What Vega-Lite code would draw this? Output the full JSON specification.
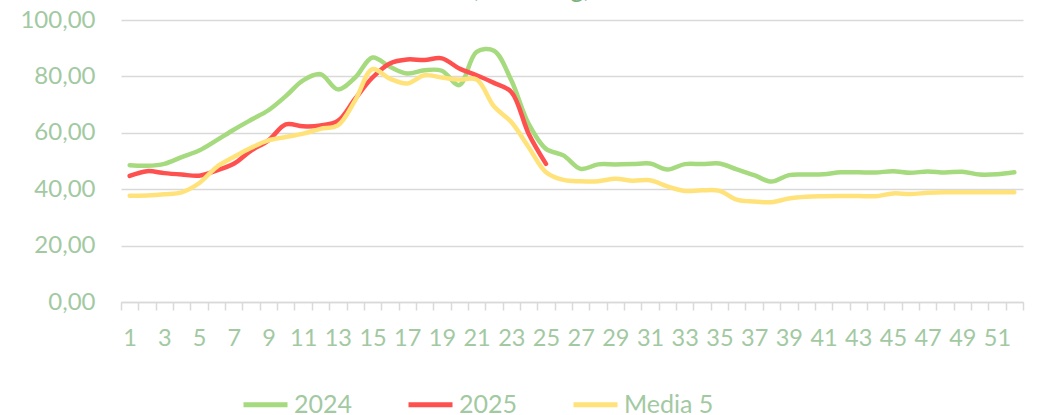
{
  "$schema": "https://vega.github.io/schema/vega-lite/v6.json",
  "width": 902,
  "height": 282,
  "autosize": {"type": "none"},
  "padding": {"left": 121, "top": 20, "right": 20, "bottom": 113},
  "background": "white",
  "title": {
    "text": "(€/100 kg)",
    "font": "Lato",
    "fontSize": 26,
    "fontWeight": "normal",
    "color": "#7DB27D",
    "anchor": "middle",
    "baseline": "alphabetic",
    "offset": 0,
    "dx": -41,
    "dy": 15
  },
  "data": {
    "values": [
      {"week": 1, "serie": "2024", "value": 48.5},
      {"week": 2, "serie": "2024", "value": 48.3},
      {"week": 3, "serie": "2024", "value": 49.0},
      {"week": 4, "serie": "2024", "value": 51.4},
      {"week": 5, "serie": "2024", "value": 53.7},
      {"week": 6, "serie": "2024", "value": 57.3},
      {"week": 7, "serie": "2024", "value": 61.1},
      {"week": 8, "serie": "2024", "value": 64.6},
      {"week": 9, "serie": "2024", "value": 68.0},
      {"week": 10, "serie": "2024", "value": 73.0},
      {"week": 11, "serie": "2024", "value": 78.6},
      {"week": 12, "serie": "2024", "value": 80.8},
      {"week": 13, "serie": "2024", "value": 75.4},
      {"week": 14, "serie": "2024", "value": 79.6},
      {"week": 15, "serie": "2024", "value": 86.7},
      {"week": 16, "serie": "2024", "value": 83.4},
      {"week": 17, "serie": "2024", "value": 81.0},
      {"week": 18, "serie": "2024", "value": 82.2},
      {"week": 19, "serie": "2024", "value": 82.0},
      {"week": 20, "serie": "2024", "value": 76.9},
      {"week": 21, "serie": "2024", "value": 88.7},
      {"week": 22, "serie": "2024", "value": 89.1},
      {"week": 23, "serie": "2024", "value": 78.6},
      {"week": 24, "serie": "2024", "value": 63.2},
      {"week": 25, "serie": "2024", "value": 54.3},
      {"week": 26, "serie": "2024", "value": 52.0},
      {"week": 27, "serie": "2024", "value": 47.2},
      {"week": 28, "serie": "2024", "value": 48.8},
      {"week": 29, "serie": "2024", "value": 48.8},
      {"week": 30, "serie": "2024", "value": 48.9},
      {"week": 31, "serie": "2024", "value": 49.1},
      {"week": 32, "serie": "2024", "value": 47.0},
      {"week": 33, "serie": "2024", "value": 48.9},
      {"week": 34, "serie": "2024", "value": 48.9},
      {"week": 35, "serie": "2024", "value": 49.1},
      {"week": 36, "serie": "2024", "value": 47.0},
      {"week": 37, "serie": "2024", "value": 45.0},
      {"week": 38, "serie": "2024", "value": 42.7},
      {"week": 39, "serie": "2024", "value": 45.0},
      {"week": 40, "serie": "2024", "value": 45.2},
      {"week": 41, "serie": "2024", "value": 45.3},
      {"week": 42, "serie": "2024", "value": 46.0},
      {"week": 43, "serie": "2024", "value": 46.0},
      {"week": 44, "serie": "2024", "value": 45.9},
      {"week": 45, "serie": "2024", "value": 46.4},
      {"week": 46, "serie": "2024", "value": 45.8},
      {"week": 47, "serie": "2024", "value": 46.3},
      {"week": 48, "serie": "2024", "value": 45.9},
      {"week": 49, "serie": "2024", "value": 46.2},
      {"week": 50, "serie": "2024", "value": 45.2},
      {"week": 51, "serie": "2024", "value": 45.3},
      {"week": 52, "serie": "2024", "value": 46.0},
      {"week": 1, "serie": "2025", "value": 44.7},
      {"week": 2, "serie": "2025", "value": 46.4},
      {"week": 3, "serie": "2025", "value": 45.7},
      {"week": 4, "serie": "2025", "value": 45.2},
      {"week": 5, "serie": "2025", "value": 44.8},
      {"week": 6, "serie": "2025", "value": 46.6},
      {"week": 7, "serie": "2025", "value": 49.0},
      {"week": 8, "serie": "2025", "value": 53.7},
      {"week": 9, "serie": "2025", "value": 57.3},
      {"week": 10, "serie": "2025", "value": 63.0},
      {"week": 11, "serie": "2025", "value": 62.3},
      {"week": 12, "serie": "2025", "value": 62.6},
      {"week": 13, "serie": "2025", "value": 64.2},
      {"week": 14, "serie": "2025", "value": 72.1},
      {"week": 15, "serie": "2025", "value": 79.6},
      {"week": 16, "serie": "2025", "value": 84.6},
      {"week": 17, "serie": "2025", "value": 86.0},
      {"week": 18, "serie": "2025", "value": 85.8},
      {"week": 19, "serie": "2025", "value": 86.4},
      {"week": 20, "serie": "2025", "value": 82.8},
      {"week": 21, "serie": "2025", "value": 80.4},
      {"week": 22, "serie": "2025", "value": 77.7},
      {"week": 23, "serie": "2025", "value": 74.5},
      {"week": 24, "serie": "2025", "value": 59.7},
      {"week": 25, "serie": "2025", "value": 49.0},
      {"week": 1, "serie": "Media 5", "value": 37.7},
      {"week": 2, "serie": "Media 5", "value": 37.8},
      {"week": 3, "serie": "Media 5", "value": 38.2},
      {"week": 4, "serie": "Media 5", "value": 38.9},
      {"week": 5, "serie": "Media 5", "value": 42.1},
      {"week": 6, "serie": "Media 5", "value": 47.8},
      {"week": 7, "serie": "Media 5", "value": 51.4},
      {"week": 8, "serie": "Media 5", "value": 54.7},
      {"week": 9, "serie": "Media 5", "value": 57.3},
      {"week": 10, "serie": "Media 5", "value": 58.5},
      {"week": 11, "serie": "Media 5", "value": 59.7},
      {"week": 12, "serie": "Media 5", "value": 61.4},
      {"week": 13, "serie": "Media 5", "value": 62.6},
      {"week": 14, "serie": "Media 5", "value": 71.5},
      {"week": 15, "serie": "Media 5", "value": 82.6},
      {"week": 16, "serie": "Media 5", "value": 79.2},
      {"week": 17, "serie": "Media 5", "value": 77.5},
      {"week": 18, "serie": "Media 5", "value": 80.4},
      {"week": 19, "serie": "Media 5", "value": 79.6},
      {"week": 20, "serie": "Media 5", "value": 78.9},
      {"week": 21, "serie": "Media 5", "value": 78.9},
      {"week": 22, "serie": "Media 5", "value": 69.4},
      {"week": 23, "serie": "Media 5", "value": 63.8},
      {"week": 24, "serie": "Media 5", "value": 54.9},
      {"week": 25, "serie": "Media 5", "value": 46.0},
      {"week": 26, "serie": "Media 5", "value": 43.3},
      {"week": 27, "serie": "Media 5", "value": 42.8},
      {"week": 28, "serie": "Media 5", "value": 42.8},
      {"week": 29, "serie": "Media 5", "value": 43.7},
      {"week": 30, "serie": "Media 5", "value": 43.0},
      {"week": 31, "serie": "Media 5", "value": 43.2},
      {"week": 32, "serie": "Media 5", "value": 41.0},
      {"week": 33, "serie": "Media 5", "value": 39.4},
      {"week": 34, "serie": "Media 5", "value": 39.6},
      {"week": 35, "serie": "Media 5", "value": 39.4},
      {"week": 36, "serie": "Media 5", "value": 36.3},
      {"week": 37, "serie": "Media 5", "value": 35.6},
      {"week": 38, "serie": "Media 5", "value": 35.4},
      {"week": 39, "serie": "Media 5", "value": 36.7},
      {"week": 40, "serie": "Media 5", "value": 37.3},
      {"week": 41, "serie": "Media 5", "value": 37.5},
      {"week": 42, "serie": "Media 5", "value": 37.6},
      {"week": 43, "serie": "Media 5", "value": 37.6},
      {"week": 44, "serie": "Media 5", "value": 37.5},
      {"week": 45, "serie": "Media 5", "value": 38.5},
      {"week": 46, "serie": "Media 5", "value": 38.3},
      {"week": 47, "serie": "Media 5", "value": 38.7},
      {"week": 48, "serie": "Media 5", "value": 38.9},
      {"week": 49, "serie": "Media 5", "value": 38.9},
      {"week": 50, "serie": "Media 5", "value": 38.9},
      {"week": 51, "serie": "Media 5", "value": 38.9},
      {"week": 52, "serie": "Media 5", "value": 38.9}
    ]
  },
  "mark": {"type": "line", "interpolate": "catmull-rom", "strokeWidth": 4.5, "strokeCap": "round", "strokeJoin": "round"},
  "encoding": {
    "x": {
      "field": "week",
      "type": "quantitative",
      "scale": {"domain": [0.5, 52.5], "nice": false, "zero": false},
      "axis": {
        "title": null,
        "values": [0.5,1.5,2.5,3.5,4.5,5.5,6.5,7.5,8.5,9.5,10.5,11.5,12.5,13.5,14.5,15.5,16.5,17.5,18.5,19.5,20.5,21.5,22.5,23.5,24.5,25.5,26.5,27.5,28.5,29.5,30.5,31.5,32.5,33.5,34.5,35.5,36.5,37.5,38.5,39.5,40.5,41.5,42.5,43.5,44.5,45.5,46.5,47.5,48.5,49.5,50.5,51.5,52.5],
        "labelExpr": "((datum.value + 0.5) % 2 == 1 && datum.value < 52) ? format(datum.value + 0.5, 'd') : ''",
        "labelOffset": 8.67,
        "labelOverlap": false,
        "labelFlush": false,
        "labelBound": false,
        "grid": false,
        "domainColor": "#D9D9D9",
        "domainWidth": 1.5,
        "tickColor": "#D9D9D9",
        "tickWidth": 1.5,
        "tickSize": 8,
        "labelPadding": 16,
        "labelFont": "Lato",
        "labelFontSize": 23.5,
        "labelColor": "#A2C9A2"
      }
    },
    "y": {
      "field": "value",
      "type": "quantitative",
      "scale": {"domain": [0, 100], "nice": false},
      "axis": {
        "title": null,
        "values": [0, 20, 40, 60, 80, 100],
        "labelExpr": "replace(format(datum.value, '.2f'), '.', ',')",
        "domain": false,
        "ticks": false,
        "grid": true,
        "gridColor": "#D9D9D9",
        "gridWidth": 1.5,
        "labelPadding": 26,
        "labelFont": "Lato",
        "labelFontSize": 24,
        "labelColor": "#A2C9A2"
      }
    },
    "color": {
      "field": "serie",
      "type": "nominal",
      "scale": {"domain": ["2024", "2025", "Media 5"], "range": ["#A6DA7E", "#FF5050", "#FFE37A"]},
      "legend": {
        "title": null,
        "orient": "none",
        "legendX": 120,
        "legendY": 360,
        "direction": "horizontal",
        "symbolType": "stroke",
        "symbolStrokeWidth": 5,
        "symbolSize": 1936,
        "labelOffset": 4,
        "columnPadding": 45,
        "padding": 0,
        "labelFont": "Lato",
        "labelFontSize": 25,
        "labelColor": "#A2C9A2"
      }
    }
  },
  "config": {
    "view": {"stroke": null},
    "legend": {"symbolStrokeColor": null}
  }
}
